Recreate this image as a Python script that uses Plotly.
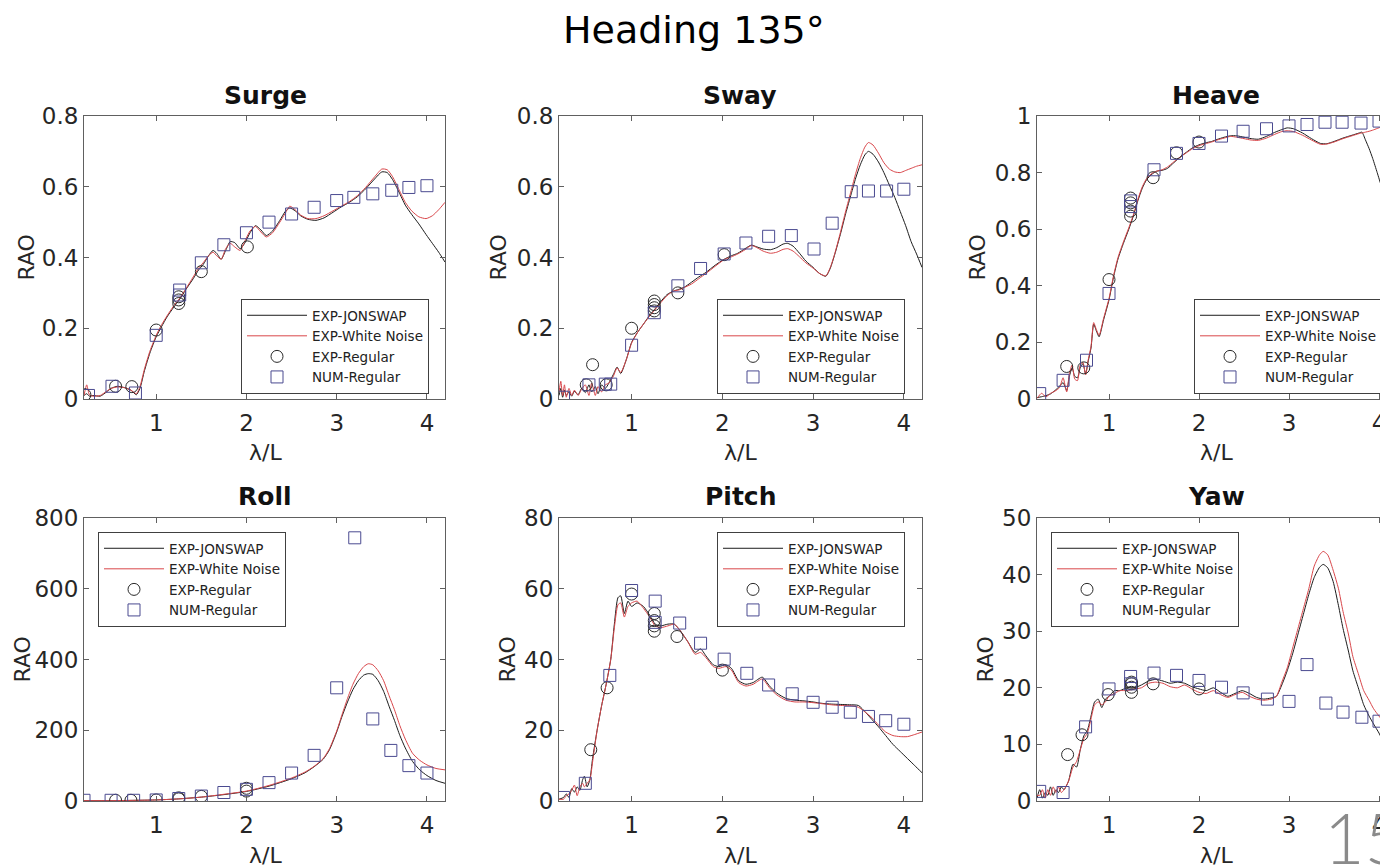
import plotly.graph_objects as go

# The page body keeps an 8px default margin, so the figure is drawn 8px in.
OFF = 8
W, H = 1388 - OFF, 867 - OFF

# ---------------- DATA ----------------
surge_x = [0.20, 0.23, 0.26, 0.30, 0.38, 0.45, 0.50, 0.57, 0.65, 0.72, 0.78, 0.82, 0.87, 0.93, 1.00, 1.06, 1.12, 1.19, 1.26, 1.33, 1.41, 1.47, 1.52, 1.58, 1.63, 1.67, 1.72, 1.77, 1.82, 1.87, 1.93, 1.98, 2.04, 2.10, 2.16, 2.22, 2.29, 2.37, 2.43, 2.48, 2.54, 2.60, 2.68, 2.77, 2.86, 2.96, 3.05, 3.14, 3.23, 3.32, 3.42, 3.50, 3.56, 3.62, 3.69, 3.76, 3.83, 3.91, 3.99, 4.06, 4.13, 4.20]
surge_jonswap = [0.010, 0.015, 0.008, 0.010, 0.008, 0.020, 0.030, 0.036, 0.032, 0.025, 0.012, 0.030, 0.080, 0.130, 0.176, 0.205, 0.232, 0.258, 0.282, 0.310, 0.340, 0.365, 0.380, 0.405, 0.420, 0.412, 0.395, 0.420, 0.445, 0.442, 0.425, 0.440, 0.470, 0.490, 0.478, 0.462, 0.475, 0.505, 0.530, 0.540, 0.532, 0.518, 0.508, 0.505, 0.512, 0.528, 0.543, 0.556, 0.572, 0.594, 0.622, 0.642, 0.640, 0.620, 0.585, 0.548, 0.522, 0.495, 0.465, 0.440, 0.415, 0.387]
surge_white = [0.010, 0.040, 0.012, 0.008, 0.010, 0.022, 0.030, 0.034, 0.032, 0.025, 0.015, 0.035, 0.085, 0.135, 0.180, 0.210, 0.235, 0.262, 0.285, 0.312, 0.345, 0.370, 0.385, 0.405, 0.415, 0.405, 0.395, 0.425, 0.440, 0.430, 0.420, 0.445, 0.475, 0.488, 0.472, 0.458, 0.470, 0.500, 0.525, 0.545, 0.535, 0.520, 0.510, 0.510, 0.518, 0.532, 0.545, 0.558, 0.575, 0.598, 0.628, 0.650, 0.648, 0.628, 0.592, 0.556, 0.532, 0.515, 0.510, 0.518, 0.535, 0.556]
surge_reg_x = [0.21, 0.55, 0.73, 1.00, 1.25, 1.25, 1.25, 1.50, 2.01]
surge_reg_y = [0.012, 0.036, 0.035, 0.195, 0.270, 0.280, 0.289, 0.360, 0.430]
surge_num_x = [0.25, 0.51, 0.77, 1.00, 1.26, 1.26, 1.50, 1.75, 2.00, 2.25, 2.50, 2.75, 3.00, 3.19, 3.40, 3.61, 3.80, 4.00]
surge_num_y = [0.010, 0.036, 0.017, 0.180, 0.308, 0.294, 0.385, 0.436, 0.470, 0.500, 0.523, 0.542, 0.561, 0.570, 0.580, 0.590, 0.598, 0.603]

sway_x = [0.20, 0.22, 0.24, 0.26, 0.28, 0.31, 0.34, 0.37, 0.41, 0.45, 0.49, 0.53, 0.56, 0.60, 0.63, 0.67, 0.71, 0.75, 0.80, 0.84, 0.88, 0.94, 1.00, 1.07, 1.14, 1.20, 1.25, 1.32, 1.39, 1.46, 1.52, 1.58, 1.66, 1.74, 1.82, 1.92, 2.02, 2.10, 2.17, 2.25, 2.32, 2.38, 2.45, 2.53, 2.60, 2.67, 2.72, 2.78, 2.85, 2.92, 3.00, 3.07, 3.14, 3.19, 3.24, 3.30, 3.36, 3.42, 3.47, 3.52, 3.57, 3.61, 3.66, 3.72, 3.78, 3.84, 3.90, 3.96, 4.02, 4.08, 4.14, 4.20]
sway_jonswap = [0.010, 0.030, 0.005, 0.025, 0.010, 0.020, 0.008, 0.022, 0.012, 0.030, 0.018, 0.040, 0.020, 0.035, 0.015, 0.040, 0.030, 0.045, 0.070, 0.090, 0.072, 0.110, 0.160, 0.190, 0.215, 0.237, 0.252, 0.275, 0.295, 0.305, 0.310, 0.316, 0.330, 0.345, 0.358, 0.378, 0.395, 0.405, 0.412, 0.425, 0.435, 0.430, 0.424, 0.422, 0.428, 0.438, 0.440, 0.432, 0.412, 0.390, 0.372, 0.355, 0.347, 0.370, 0.410, 0.465, 0.525, 0.580, 0.625, 0.662, 0.690, 0.700, 0.692, 0.670, 0.640, 0.605, 0.570, 0.530, 0.490, 0.445, 0.410, 0.372]
sway_white = [0.020, 0.050, 0.010, 0.040, 0.005, 0.030, 0.010, 0.025, 0.010, 0.028, 0.040, 0.010, 0.045, 0.010, 0.035, 0.020, 0.040, 0.045, 0.065, 0.088, 0.075, 0.110, 0.158, 0.190, 0.215, 0.235, 0.250, 0.272, 0.292, 0.305, 0.308, 0.315, 0.325, 0.340, 0.355, 0.375, 0.394, 0.402, 0.410, 0.422, 0.434, 0.428, 0.418, 0.412, 0.415, 0.423, 0.425, 0.418, 0.402, 0.385, 0.370, 0.355, 0.348, 0.372, 0.412, 0.470, 0.532, 0.590, 0.638, 0.680, 0.712, 0.725, 0.718, 0.695, 0.668, 0.650, 0.642, 0.640, 0.646, 0.652, 0.658, 0.662]
sway_reg_x = [0.50, 0.57, 0.72, 1.00, 1.25, 1.25, 1.25, 1.25, 1.51, 2.02]
sway_reg_y = [0.040, 0.097, 0.040, 0.200, 0.277, 0.267, 0.258, 0.249, 0.300, 0.408]
sway_num_x = [0.25, 0.53, 0.71, 0.77, 1.00, 1.25, 1.51, 1.76, 2.02, 2.26, 2.51, 2.76, 3.01, 3.21, 3.42, 3.61, 3.81, 4.00]
sway_num_y = [0.005, 0.040, 0.042, 0.042, 0.152, 0.244, 0.320, 0.369, 0.410, 0.441, 0.460, 0.462, 0.424, 0.497, 0.586, 0.588, 0.588, 0.593]

heave_x = [0.20, 0.25, 0.30, 0.35, 0.40, 0.45, 0.49, 0.53, 0.56, 0.59, 0.62, 0.65, 0.68, 0.71, 0.74, 0.77, 0.80, 0.83, 0.86, 0.89, 0.94, 1.00, 1.05, 1.10, 1.16, 1.22, 1.27, 1.32, 1.37, 1.42, 1.48, 1.53, 1.59, 1.65, 1.72, 1.79, 1.86, 1.93, 2.00, 2.07, 2.14, 2.20, 2.28, 2.35, 2.42, 2.50, 2.58, 2.66, 2.75, 2.84, 2.92, 2.98, 3.05, 3.15, 3.25, 3.35, 3.42, 3.50, 3.60, 3.70, 3.78, 3.81, 3.85, 3.89, 3.93, 3.98, 4.03, 4.07, 4.10]
heave_jonswap = [0.005, 0.008, 0.012, 0.018, 0.030, 0.045, 0.058, 0.030, 0.080, 0.110, 0.080, 0.075, 0.110, 0.125, 0.090, 0.135, 0.180, 0.265, 0.240, 0.220, 0.280, 0.350, 0.430, 0.495, 0.550, 0.600, 0.646, 0.700, 0.745, 0.776, 0.795, 0.805, 0.808, 0.815, 0.835, 0.855, 0.872, 0.888, 0.898, 0.905, 0.910, 0.917, 0.925, 0.930, 0.930, 0.925, 0.920, 0.918, 0.928, 0.942, 0.952, 0.958, 0.955, 0.940, 0.920, 0.903, 0.902, 0.910, 0.922, 0.932, 0.940, 0.943, 0.915, 0.885, 0.850, 0.800, 0.750, 0.725, 0.700]
heave_white = [0.002, 0.020, 0.008, 0.020, 0.028, 0.040, 0.075, 0.025, 0.090, 0.120, 0.070, 0.065, 0.120, 0.130, 0.085, 0.140, 0.185, 0.270, 0.245, 0.225, 0.285, 0.355, 0.435, 0.500, 0.555, 0.605, 0.650, 0.705, 0.750, 0.780, 0.798, 0.805, 0.810, 0.820, 0.838, 0.855, 0.870, 0.885, 0.895, 0.902, 0.908, 0.915, 0.922, 0.928, 0.925, 0.920, 0.915, 0.914, 0.922, 0.935, 0.945, 0.948, 0.945, 0.932, 0.915, 0.900, 0.901, 0.908, 0.920, 0.930, 0.938, 0.940, 0.943, 0.946, 0.950, 0.956, 0.962, 0.968, 0.972]
heave_reg_x = [0.53, 0.72, 1.00, 1.24, 1.24, 1.24, 1.24, 1.49, 1.75, 2.00]
heave_reg_y = [0.115, 0.110, 0.422, 0.710, 0.693, 0.664, 0.646, 0.782, 0.870, 0.908]
heave_num_x = [0.23, 0.49, 0.75, 1.00, 1.24, 1.24, 1.50, 1.75, 2.00, 2.25, 2.49, 2.75, 3.00, 3.20, 3.40, 3.59, 3.80, 4.00]
heave_num_y = [0.019, 0.066, 0.137, 0.373, 0.680, 0.700, 0.810, 0.868, 0.903, 0.929, 0.946, 0.955, 0.965, 0.970, 0.978, 0.978, 0.975, 0.982]

roll_x = [0.20, 0.50, 0.80, 1.00, 1.25, 1.50, 1.75, 2.00, 2.25, 2.50, 2.65, 2.75, 2.85, 2.92, 3.00, 3.06, 3.12, 3.18, 3.24, 3.30, 3.35, 3.40, 3.46, 3.52, 3.58, 3.64, 3.70, 3.76, 3.84, 3.92, 4.00, 4.10, 4.20]
roll_jonswap = [1, 1, 2, 3, 6, 11, 18, 27, 42, 63, 80, 97, 118, 145, 195, 240, 280, 315, 340, 356, 360, 358, 340, 310, 268, 228, 185, 150, 112, 88, 72, 58, 50]
roll_white = [1, 1, 2, 3, 6, 11, 19, 28, 44, 65, 82, 98, 120, 148, 198, 245, 290, 330, 360, 380, 388, 385, 368, 340, 298, 258, 213, 175, 135, 115, 102, 92, 88]
roll_reg_x = [0.55, 0.72, 1.00, 1.25, 1.25, 1.50, 2.00, 2.00]
roll_reg_y = [2, 2, 3, 6, 9, 13, 28, 36]
roll_num_x = [0.20, 0.50, 0.75, 1.00, 1.25, 1.50, 1.75, 2.00, 2.25, 2.50, 2.75, 3.00, 3.20, 3.40, 3.60, 3.80, 4.00]
roll_num_y = [2, 2, 2, 3, 7, 14, 24, 33, 52, 79, 129, 320, 744, 232, 143, 100, 79]

pitch_x = [0.20, 0.25, 0.28, 0.31, 0.34, 0.37, 0.40, 0.43, 0.46, 0.48, 0.51, 0.54, 0.57, 0.62, 0.67, 0.72, 0.77, 0.81, 0.85, 0.88, 0.92, 0.96, 1.00, 1.06, 1.13, 1.20, 1.26, 1.32, 1.40, 1.47, 1.54, 1.62, 1.70, 1.76, 1.82, 1.90, 1.96, 2.04, 2.10, 2.18, 2.26, 2.34, 2.44, 2.52, 2.60, 2.70, 2.80, 2.90, 3.00, 3.10, 3.20, 3.30, 3.40, 3.50, 3.58, 3.65, 3.72, 3.80, 3.88, 3.96, 4.04, 4.12, 4.20]
pitch_jonswap = [0.5, 1, 2, 1, 3.5, 2.5, 4, 3, 6, 7, 4, 6, 12, 20, 27, 33, 40, 50, 57.5, 58, 53, 56.5, 55, 56, 55, 52.5, 50, 49.5, 50, 50, 48, 45, 42, 43, 41, 38.5, 38, 38.5, 37.5, 34, 33, 33.5, 35, 32.5, 30.5, 29, 28.5, 28.3, 28, 27.6, 27.4, 27.3, 27.2, 27, 25, 23, 21, 18.5, 16, 14, 12, 10, 8]
pitch_white = [0.5, 0.5, 1.5, 2, 3, 4.5, 1.5, 4, 5, 4, 5, 6, 11, 20, 27, 33, 40, 49, 55.5, 56, 52, 55, 56, 56.5, 54.5, 52, 49.5, 49, 49.5, 50, 48, 45, 41.5, 42, 40.5, 38, 37.5, 38, 37, 33.5, 32.5, 33, 34.5, 32, 30, 28.5, 28, 28, 27.8, 27.5, 27.2, 27, 27, 26.5, 25, 23.5, 21.5, 19.5, 18.5, 18.2, 18.2, 18.8, 19.5]
pitch_reg_x = [0.55, 0.73, 1.00, 1.25, 1.25, 1.25, 1.25, 1.50, 2.00]
pitch_reg_y = [14.5, 32, 58.5, 53, 51, 49.5, 48, 46.5, 37]
pitch_num_x = [0.25, 0.49, 0.76, 1.00, 1.26, 1.26, 1.53, 1.76, 2.02, 2.27, 2.51, 2.77, 3.00, 3.21, 3.41, 3.61, 3.80, 4.00]
pitch_num_y = [1, 5, 35.5, 59.5, 56.5, 50.5, 50.3, 44.6, 40.1, 36.1, 32.8, 30.3, 27.9, 26.5, 25.1, 23.9, 22.7, 21.7]

yaw_x = [0.20, 0.23, 0.26, 0.29, 0.32, 0.35, 0.38, 0.41, 0.44, 0.47, 0.50, 0.55, 0.60, 0.64, 0.68, 0.72, 0.76, 0.80, 0.84, 0.88, 0.92, 0.96, 1.00, 1.06, 1.12, 1.20, 1.28, 1.36, 1.44, 1.52, 1.60, 1.68, 1.76, 1.84, 1.92, 2.00, 2.08, 2.16, 2.24, 2.32, 2.40, 2.48, 2.56, 2.64, 2.72, 2.80, 2.86, 2.92, 2.98, 3.04, 3.10, 3.16, 3.22, 3.28, 3.34, 3.38, 3.43, 3.49, 3.55, 3.60, 3.66, 3.71, 3.77, 3.83, 3.89, 3.94, 4.00, 4.05, 4.10]
yaw_jonswap = [0.5, 2, 0.5, 1.5, 1, 2.5, 1, 2, 1.5, 2.5, 2, 3.5, 6.5, 6, 9, 11.5, 12.5, 15, 17.5, 18, 16.5, 18, 18.5, 19.5, 19.5, 20, 20, 20.5, 21.2, 21.5, 21.2, 20.8, 21, 20.8, 20.2, 19.8, 19.5, 20, 19.2, 18.5, 19, 19.5, 19, 18.3, 18, 18.2, 18.5, 20.5, 23, 26, 29.5, 33, 36.5, 39.5, 41.3, 41.8, 41.2, 38.8, 34.5, 30.5, 26.5, 23, 20, 17, 15, 13.6, 12, 10.4, 8.9]
yaw_white = [1, 1, 2, 0.5, 2, 1, 2.5, 1.5, 2.5, 1.5, 2, 3.5, 6, 7, 9, 11, 12, 14.5, 17, 17.5, 17, 17.5, 18.5, 19, 19.5, 19.5, 19.8, 20, 20.8, 21, 20.8, 20.2, 20, 20.5, 19.8, 19.2, 19, 19.5, 18.8, 18.3, 18.8, 19.2, 18.5, 18, 17.8, 18, 18.5, 21, 23.5, 27, 30.5, 34, 37.5, 41.5, 43.5, 44.1, 43.5, 40.8, 37.5, 33.5, 29.5, 25.5, 22.5, 19.5, 17.8, 16.3, 15, 14, 13]
yaw_reg_x = [0.54, 0.70, 0.99, 1.25, 1.25, 1.25, 1.25, 1.49, 2.00]
yaw_reg_y = [8.2, 11.7, 18.8, 19.2, 20.1, 20.7, 21.0, 20.7, 19.8]
yaw_num_x = [0.23, 0.49, 0.74, 1.00, 1.24, 1.24, 1.50, 1.75, 2.00, 2.25, 2.49, 2.76, 3.00, 3.20, 3.41, 3.60, 3.81, 4.00]
yaw_num_y = [1.7, 1.5, 13.1, 19.8, 22.0, 20.7, 22.6, 22.2, 21.3, 20.1, 19.1, 18.0, 17.6, 24.1, 17.3, 15.7, 14.8, 14.1]

titles = ["Surge", "Sway", "Heave", "Roll", "Pitch", "Yaw"]
series_names = ["EXP-JONSWAP", "EXP-White Noise", "EXP-Regular", "NUM-Regular"]
y_ranges = [[0, 0.8], [0, 0.8], [0, 1], [0, 800], [0, 80], [0, 50]]
y_dticks = [0.2, 0.2, 0.2, 200, 20, 10]
x_ticks = [1, 2, 3, 4]

# ---------------- LAYOUT GEOMETRY (window pixels) ----------------
cols_px = [(84, 445), (559, 922), (1037, 1388)]
rows_px = [(116, 399), (518, 801)]
x_ranges = [[0.2, 4.2], [0.2, 4.2], [0.2, 4.1]]
legend_pos = [(241, 299), (717, 299), (1194, 299), (98, 532), (717, 532), (1051, 532)]
rao_x = [26, 498, 977, 22, 507, 985]
title_cx = [265, 740, 1216, 265, 740, 1216]
title_cy = [95, 496]
xlab_cy = [453, 855]


def px(x):
    return (x - OFF) / W


def py(y):
    return 1 - (y - OFF) / H


panels = [
    (surge_x, surge_jonswap, surge_white, surge_reg_x, surge_reg_y, surge_num_x, surge_num_y),
    (sway_x, sway_jonswap, sway_white, sway_reg_x, sway_reg_y, sway_num_x, sway_num_y),
    (heave_x, heave_jonswap, heave_white, heave_reg_x, heave_reg_y, heave_num_x, heave_num_y),
    (roll_x, roll_jonswap, roll_white, roll_reg_x, roll_reg_y, roll_num_x, roll_num_y),
    (pitch_x, pitch_jonswap, pitch_white, pitch_reg_x, pitch_reg_y, pitch_num_x, pitch_num_y),
    (yaw_x, yaw_jonswap, yaw_white, yaw_reg_x, yaw_reg_y, yaw_num_x, yaw_num_y),
]

FONT = "DejaVu Sans"
AX = "#606060"
TXT = "#262626"

fig = go.Figure()
layout = dict(width=W, height=H, margin=dict(l=0, r=0, t=0, b=0, autoexpand=False),
              paper_bgcolor="white", plot_bgcolor="white", showlegend=True,
              font=dict(family=FONT, color=TXT))
annotations = []

for i, (cx, jon, wn, rx, ry, nx, ny) in enumerate(panels):
    r, c = divmod(i, 3)
    sfx = "" if i == 0 else str(i + 1)
    xa, ya = "x" + sfx, "y" + sfx
    leg = "legend" + sfx
    fig.add_trace(go.Scatter(x=cx, y=jon, mode="lines", name=series_names[0],
                             line=dict(color="#1c1c1c", width=1, shape="spline", smoothing=0.6),
                             xaxis=xa, yaxis=ya, legend=leg))
    fig.add_trace(go.Scatter(x=cx, y=wn, mode="lines", name=series_names[1],
                             line=dict(color="#d9464a", width=1, shape="spline", smoothing=0.6),
                             xaxis=xa, yaxis=ya, legend=leg))
    fig.add_trace(go.Scatter(x=rx, y=ry, mode="markers", name=series_names[2],
                             marker=dict(symbol="circle-open", size=12, color="#2a2a2a", line=dict(width=1)),
                             xaxis=xa, yaxis=ya, legend=leg))
    fig.add_trace(go.Scatter(x=nx, y=ny, mode="markers", name=series_names[3],
                             marker=dict(symbol="square-open", size=12, color="#4a4a90", line=dict(width=1)),
                             xaxis=xa, yaxis=ya, legend=leg))

    x0, x1 = cols_px[c]
    y0, y1 = rows_px[r]
    layout["xaxis" + sfx] = dict(
        domain=[px(x0), min(px(x1), 1.0)], anchor=ya, range=x_ranges[c], automargin=False,
        tickvals=x_ticks, ticks="inside", ticklen=5, tickcolor=AX,
        showline=True, linecolor=AX, linewidth=1, mirror="allticks",
        showgrid=False, zeroline=False, ticklabelstandoff=3,
        tickfont=dict(family=FONT, size=23, color=TXT))
    layout["yaxis" + sfx] = dict(
        domain=[py(y1), py(y0)], anchor=xa, range=y_ranges[i], automargin=False,
        dtick=y_dticks[i], tick0=0, ticks="inside", ticklen=5, tickcolor=AX,
        showline=True, linecolor=AX, linewidth=1,
        mirror=("allticks" if c < 2 else False),
        showgrid=False, zeroline=True, zerolinecolor="#202020", zerolinewidth=1.5,
        tickfont=dict(family=FONT, size=23, color=TXT), ticklabelstandoff=0)
    lx, ly = legend_pos[i]
    layout[leg] = dict(x=px(lx), y=py(ly), xanchor="left", yanchor="top",
                       bgcolor="white", bordercolor="#404040", borderwidth=1,
                       font=dict(family=FONT, size=13.5, color="#222"),
                       tracegroupgap=0, itemwidth=60)

    annotations.append(dict(text="<b>%s</b>" % titles[i], x=px(title_cx[i]), y=py(title_cy[r]),
                            xref="paper", yref="paper", showarrow=False, xanchor="center", yanchor="middle",
                            font=dict(family=FONT, size=25, color="#111")))
    annotations.append(dict(text="RAO", x=px(rao_x[i]), y=py((y0 + y1) / 2), textangle=-90,
                            xref="paper", yref="paper", showarrow=False, xanchor="center", yanchor="middle",
                            font=dict(family=FONT, size=22, color=TXT)))
    annotations.append(dict(text="λ/L", x=px(title_cx[i]), y=py(xlab_cy[r]),
                            xref="paper", yref="paper", showarrow=False, xanchor="center", yanchor="middle",
                            font=dict(family=FONT, size=22, color=TXT)))

annotations.append(dict(text="Heading 135°", x=px(694), y=py(30), xref="paper", yref="paper",
                        showarrow=False, xanchor="center", yanchor="middle",
                        font=dict(family=FONT, size=38, color="#000")))
annotations.append(dict(text="15", x=px(1322), y=py(837), xref="paper", yref="paper",
                        showarrow=False, xanchor="left", yanchor="middle",
                        font=dict(family="Lato", size=70, color="#8a8a8a", weight=300)))
layout["annotations"] = annotations
fig.update_layout(**layout)
fig.write_html("out.html")
